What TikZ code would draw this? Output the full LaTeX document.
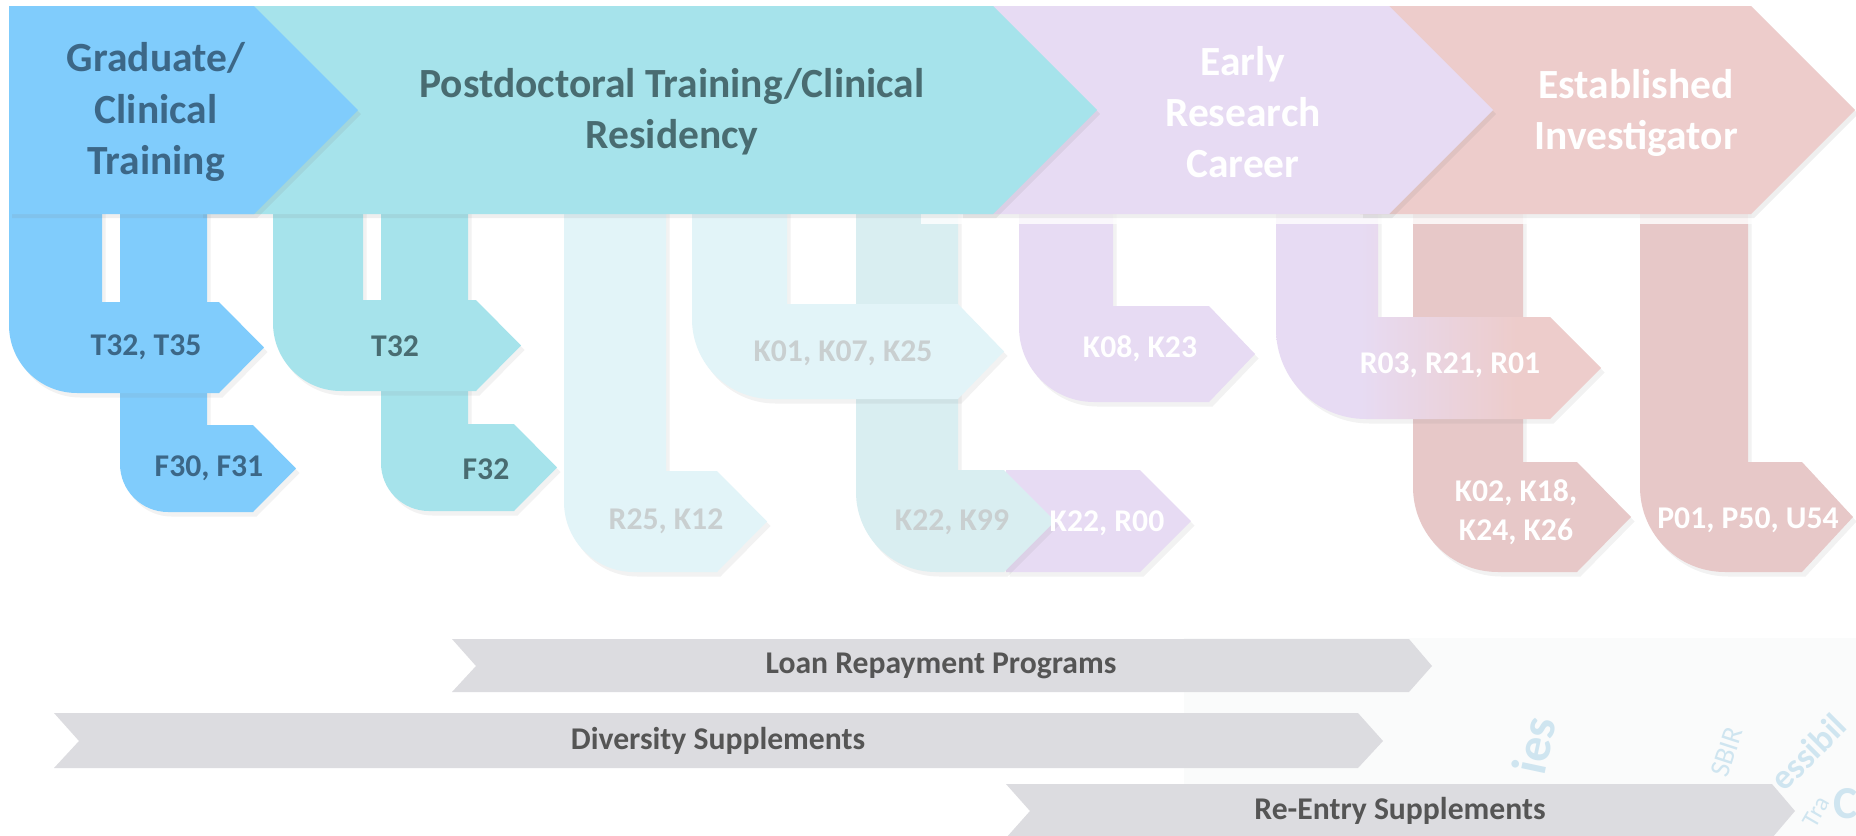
\documentclass[tikz,border=0pt]{standalone}
\usepackage{fontspec}
\setmainfont{Carlito}
\usetikzlibrary{shadows}
\definecolor{gradblue}{HTML}{80CCFC}
\definecolor{gradtext}{HTML}{3C6787}
\definecolor{postteal}{HTML}{A6E3EB}
\definecolor{posttext}{HTML}{496C71}
\definecolor{paleteal}{HTML}{E2F4F8}
\definecolor{paletealb}{HTML}{D9EEF1}
\definecolor{paletext}{HTML}{C9CFD0}
\definecolor{lav}{HTML}{E7DBF3}
\definecolor{pinkc}{HTML}{EDCCCB}
\definecolor{pinkd}{HTML}{E7C8C8}
\definecolor{barg}{HTML}{DCDCE0}
\definecolor{bartext}{HTML}{555555}
\definecolor{wmblue}{HTML}{CFE5F0}
\definecolor{panelg}{HTML}{FAFBFB}
\pgfdeclarehorizontalshading{rgrad}{100bp}{color(0bp)=(lav); color(38bp)=(lav); color(62bp)=(pinkc); color(100bp)=(pinkc)}
% hook arrow: #1 left, #2 bar right, #3 band top, #4 band bottom, #5 flat end, #6 tip x, #7 radius (px), #8 style
\newcommand\hookarrow[8]{%
  \path[#8] (#1,200) -- (#2,200) -- (#2,#3) -- (#5,#3) -- (#6,{(#3+#4)/2}) -- (#5,#4)
    -- ({#1+#7},#4) arc[start angle=270, end angle=180, radius=#7*0.01cm] -- cycle;}
\begin{document}
\begin{tikzpicture}[x=0.01cm, y=-0.01cm,
  hdr/.style={font=\fontsize{11.8}{14.6}\selectfont\bfseries, align=center, inner sep=0pt},
  lbl/.style={font=\fontsize{9}{11.2}\selectfont\bfseries, align=center, inner sep=0pt},
  bartxt/.style={font=\fontsize{9}{11}\selectfont\bfseries, inner sep=0pt, text=bartext},
  wmtxt/.style={text=wmblue, inner sep=0pt},
  shd/.style={drop shadow={shadow xshift=0.035cm, shadow yshift=-0.045cm, opacity=0.10}},
  hshd/.style={drop shadow={shadow xshift=0.03cm, shadow yshift=-0.04cm, opacity=0.12}}]
\useasboundingbox (0,0) rectangle (1856,836);
\fill[white] (0,0) rectangle (1856,836);
% faint background panel and watermark
\fill[panelg] (1184,638) rectangle (1856,836);
\node[wmtxt, rotate=78, font=\fontsize{14}{14}\selectfont\bfseries] (wm1) at (1534,745) {ies};
\node[wmtxt, rotate=72, font=\fontsize{8}{8}\selectfont] (wm2) at (1727,752) {SBIR};
\node[wmtxt, rotate=45, font=\fontsize{10}{10}\selectfont\bfseries] (wm3) at (1808,752) {essibil};
\node[wmtxt, font=\fontsize{13}{13}\selectfont\bfseries] (wm4) at (1846,804) {C};
\node[wmtxt, rotate=60, font=\fontsize{7}{7}\selectfont] (wm5) at (1816,812) {Tra};
% bottom programme bars
\path[fill=barg] (452,639) -- (1409,639) -- (1432,666) -- (1409,692) -- (452,692) -- (476,666) -- cycle;
\node[bartxt] (loan) at (941,666) {Loan Repayment Programs};
\path[fill=barg] (54,713) -- (1358,713) -- (1383,741) -- (1358,768) -- (54,768) -- (79,741) -- cycle;
\node[bartxt] (div) at (718,741) {Diversity Supplements};
\path[fill=barg] (1006,784) -- (1772,784) -- (1795,811) -- (1772,838) -- (1006,838) -- (1030,811) -- cycle;
\node[bartxt] (reentry) at (1400,811) {Re-Entry Supplements};
% hook arrows
\path[fill=lav, shd] (1006,470) -- (1140,470) -- (1191,521) -- (1140,572) -- (1006,572) -- cycle;
\hookarrow{856}{958}{470}{572}{1004}{1055}{80}{fill=paletealb, shd}
\hookarrow{692}{787}{304}{399}{958}{1004}{80}{fill=paleteal, shd}
\hookarrow{564}{666}{471}{572}{717}{767}{70}{fill=paleteal, shd}
\hookarrow{381}{468}{424}{511}{514}{557}{48}{fill=postteal, shd}
\hookarrow{273}{363}{300}{391}{476}{521}{68}{fill=postteal, shd}
\hookarrow{120}{207}{425}{512}{253}{296}{48}{fill=gradblue, shd}
\hookarrow{9}{102}{302}{393}{219}{264}{68}{fill=gradblue, shd}
\hookarrow{1019}{1113}{306}{402}{1209}{1255}{75}{fill=lav, shd}
\hookarrow{1413}{1523}{462}{572}{1577}{1631}{85}{fill=pinkd, shd}
\hookarrow{1276}{1378}{317}{419}{1550}{1601}{90}{shading=rgrad, shd}
\hookarrow{1640}{1748}{462}{572}{1802}{1853}{85}{fill=pinkd, shd}
% light strip under the header
\fill[white, opacity=0.8] (921,212) rectangle (1770,224);
% header chevrons
\path[fill=pinkc, hshd] (1360,6) -- (1751,6) -- (1855,110) -- (1751,214) -- (1360,214) -- cycle;
\path[fill=lav, hshd] (960,6) -- (1389,6) -- (1493,110) -- (1389,214) -- (960,214) -- cycle;
\path[fill=postteal, hshd] (200,6) -- (993,6) -- (1097,110) -- (993,214) -- (200,214) -- cycle;
\path[fill=gradblue, hshd] (9,6) -- (254,6) -- (358,110) -- (254,214) -- (9,214) -- cycle;
% header texts
\node[hdr, text=gradtext] (tgrad) at (156,112) {Graduate/\\Clinical\\Training};
\node[hdr, text=posttext] (tpost) at (672,112) {Postdoctoral Training/Clinical\\Residency};
\node[hdr, text=white] (tearly) at (1243,112) {Early\\Research\\Career};
\node[hdr, text=white] (test) at (1636,113) {Established\\Investigator};
% hook labels
\node[lbl, text=gradtext] (l1) at (146,347) {T32, T35};
\node[lbl, text=gradtext] (l2) at (209,468) {F30, F31};
\node[lbl, text=posttext] (l3) at (395,346) {T32};
\node[lbl, text=posttext] (l4) at (486,469) {F32};
\node[lbl, text=paletext] (l5) at (666,521) {R25, K12};
\node[lbl, text=paletext] (l6) at (843,353) {K01, K07, K25};
\node[lbl, text=paletext] (l7) at (952,522) {K22, K99};
\node[lbl, text=white] (l8) at (1107,523) {K22, R00};
\node[lbl, text=white] (l9) at (1140,349) {K08, K23};
\node[lbl, text=white] (l10) at (1450,365) {R03, R21, R01};
\node[lbl, text=white] (l11) at (1516,512) {K02, K18,\\K24, K26};
\node[lbl, text=white] (l12) at (1748,520) {P01, P50, U54};
\end{tikzpicture}
\end{document}
